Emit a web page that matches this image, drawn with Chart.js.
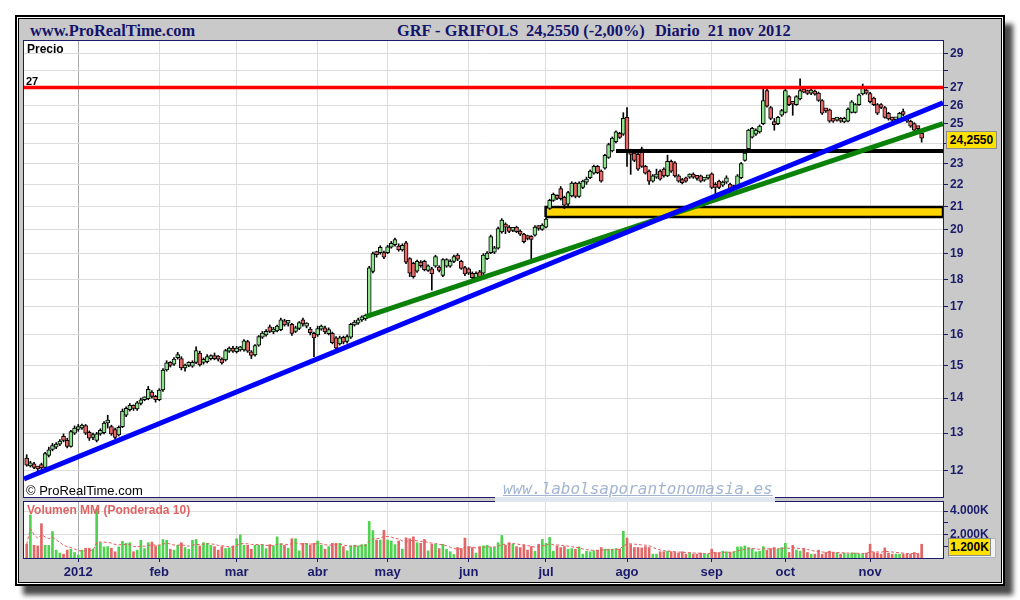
<!DOCTYPE html>
<html lang="es">
<head>
<meta charset="utf-8">
<title>GRF - GRIFOLS diario</title>
<script src="https://cdn.jsdelivr.net/npm/chart.js@4.4.1/dist/chart.umd.min.js"></script>
<style>
  html, body { margin: 0; padding: 0; background: #fff; }
  body { position: relative; width: 1020px; height: 600px; overflow: hidden; font-family: "Liberation Sans", Arial, sans-serif; }
  .a { position: absolute; }
  #outer { left: 15px; top: 15px; width: 990px; height: 571px; box-sizing: border-box; border: 2px solid #000; background: #fff; padding: 1px; box-shadow: 8px 9px 5px #4a4a4a; }
  #inner { width: 100%; height: 100%; box-sizing: border-box; border: 1px solid #000; background: #c9c9c9; }
  .panel { background: #fff; border: 1px solid #1b1b6b; box-sizing: border-box; z-index: 1; }
  #pricePanel { left: 23px; top: 40px; width: 921px; height: 458px; }
  #volPanel { left: 23px; top: 501px; width: 921px; height: 58px; }
  canvas { position: absolute; z-index: 2; }
  #pc { left: 24px; top: 41px; }
  #vc { left: 24px; top: 502px; }
  .t { position: absolute; z-index: 5; white-space: pre; }
  .hdr { font: bold 16.4px "Liberation Serif", "Times New Roman", serif; color: #14146b; top: 23px; line-height: 16px; }
  #wmStrip { left: 495px; top: 497px; width: 280px; height: 5px; background: #e2e6ee; z-index: 1; }
  #wm { left: 503px; top: 479px; font: italic 16px "DejaVu Sans Mono", monospace; color: #a3b5d2; text-decoration: underline; }
  .tag { position: absolute; z-index: 6; background: #ffe100; border: 1px solid #8c8c8c; box-sizing: border-box; font: bold 12px "Liberation Sans", Arial, sans-serif; color: #000; text-align: center; }
</style>
</head>
<body>
<div id="outer" class="a"><div id="inner"></div></div>
<div id="pricePanel" class="a panel"></div>
<div id="volPanel" class="a panel"></div>
<div id="wmStrip" class="a"></div>
<canvas id="pc" width="976" height="456"></canvas>
<canvas id="vc" width="976" height="86"></canvas>

<div class="t hdr" style="left:30px">www.ProRealTime.com</div>
<div class="t hdr" style="left:397px">GRF - GRIFOLS</div>
<div class="t hdr" style="left:526px">24,2550 (-2,00%)</div>
<div class="t hdr" style="left:655px">Diario  21 nov 2012</div>
<div class="t" style="left:27px;top:42px;font:bold 12px 'Liberation Sans',Arial,sans-serif;color:#000">Precio</div>
<div class="t" style="left:26px;top:75px;font:bold 11px 'Liberation Sans',Arial,sans-serif;color:#000">27</div>
<div class="t" style="left:26px;top:483px;font:13px 'Liberation Sans',Arial,sans-serif;color:#000">© ProRealTime.com</div>
<div id="wm" class="t">www.labolsaporantonomasia.es</div>
<div class="t" style="left:27px;top:503px;font:bold 12px 'Liberation Sans',Arial,sans-serif;color:#e06464">Volumen MM (Ponderada 10)</div>
<div class="a" style="left:948px;top:538px;width:48px;height:20px;border:1px solid #a9b6c6;background:#f2f2f2;box-sizing:border-box;z-index:5"></div>
<div class="tag" style="left:946px;top:131px;width:51px;height:18px;line-height:16px">24,2550</div>
<div class="tag" style="left:948px;top:538px;width:43px;height:18px;line-height:16px">1.200K</div>

<script>
// month starts as trading-day index (day 0 = 12 dic 2011)
const monthIdx = [14, 36, 57, 79, 98, 120, 141, 163, 186, 206, 229];
const monthLabels = ['2012', 'feb', 'mar', 'abr', 'may', 'jun', 'jul', 'ago', 'sep', 'oct', 'nov'];

const opens = [
  12.33,12.13,12.18,12.09,12.16,12.09,12.40,12.56,12.62,12.70,
  12.91,12.80,12.64,13.00,13.10,13.14,13.21,13.02,12.88,12.80,
  12.98,13.01,13.28,13.18,13.10,12.95,13.18,13.50,13.66,13.75,
  13.68,13.84,13.95,13.98,14.18,14.05,13.95,14.24,14.86,15.05,
  15.04,15.25,15.22,14.92,15.00,14.98,15.10,15.40,15.10,15.12,
  15.22,15.25,15.28,15.20,15.18,15.46,15.56,15.44,15.50,15.50,
  15.78,15.44,15.34,15.66,15.92,16.00,16.28,16.10,16.14,16.18,
  16.48,16.40,16.36,16.12,16.22,16.52,16.30,16.20,16.05,16.00,
  16.20,16.24,16.04,16.05,15.90,15.70,15.92,15.78,15.92,16.34,
  16.40,16.52,16.56,16.64,18.30,19.00,19.04,19.04,19.04,19.26,
  19.36,19.31,19.15,19.44,18.80,18.62,18.31,18.66,18.69,18.34,
  18.40,18.50,18.47,18.15,18.50,18.50,18.69,18.94,18.69,18.45,
  18.40,18.23,18.06,18.28,18.23,18.80,19.04,19.06,19.22,19.89,
  20.20,20.10,19.96,20.10,19.93,19.80,19.70,19.66,19.76,20.10,
  20.00,20.10,20.91,21.27,21.46,21.80,21.40,21.10,21.47,22.06,
  21.44,21.86,22.10,22.31,22.53,22.85,22.62,22.77,23.29,23.61,
  24.08,24.50,24.46,25.35,23.61,23.50,23.44,23.72,22.85,22.62,
  22.15,22.34,22.62,22.72,22.40,23.10,23.02,22.40,22.22,22.30,
  22.34,22.46,22.34,22.40,22.20,22.30,22.49,21.96,22.15,21.96,
  22.10,22.01,21.80,21.93,22.31,23.14,23.72,24.31,24.46,24.58,
  25.01,26.83,25.88,25.10,25.01,25.46,25.62,26.48,26.10,26.04,
  26.35,26.83,26.80,26.68,26.76,26.69,26.27,25.76,25.76,25.24,
  25.20,25.28,25.10,25.14,25.62,25.62,26.04,26.63,26.83,26.66,
  26.40,26.04,26.04,25.88,25.57,25.30,25.22,25.26,25.66,25.28,
  25.14,25.01,24.76,24.50
];
const highs = [
  12.42,12.25,12.22,12.12,12.20,12.48,12.62,12.72,12.74,12.82,
  12.98,12.86,13.08,13.20,13.24,13.25,13.24,13.06,13.00,13.02,
  13.12,13.32,13.50,13.22,13.14,13.20,13.68,13.74,13.84,13.80,
  13.90,14.00,14.04,14.35,14.22,14.08,14.28,14.90,15.15,15.12,
  15.25,15.42,15.28,15.04,15.12,15.15,15.60,15.46,15.24,15.35,
  15.34,15.40,15.32,15.24,15.52,15.60,15.62,15.62,15.62,15.84,
  15.82,15.48,15.68,15.98,16.12,16.18,16.34,16.26,16.34,16.58,
  16.54,16.50,16.40,16.30,16.46,16.58,16.42,16.26,16.10,16.30,
  16.34,16.30,16.24,16.10,15.94,15.96,15.96,16.00,16.40,16.50,
  16.58,16.66,16.72,18.50,19.06,19.10,19.32,19.10,19.34,19.50,
  19.64,19.40,19.40,19.50,18.84,18.66,18.74,18.72,18.74,18.56,
  18.46,18.94,18.52,18.80,18.80,18.76,18.94,19.00,18.74,18.50,
  18.44,18.28,18.28,18.34,19.00,19.08,19.76,19.30,20.10,20.46,
  20.28,20.16,20.08,20.14,19.98,19.84,19.76,19.74,20.16,20.16,
  20.24,20.50,21.32,21.60,21.52,21.90,21.46,21.68,22.12,22.10,
  22.12,22.20,22.34,22.68,22.92,22.90,22.68,23.44,24.00,24.32,
  24.64,24.56,25.60,25.88,23.70,23.56,23.50,23.80,22.90,22.68,
  22.46,22.72,22.68,22.78,23.40,23.16,23.08,22.46,22.28,22.34,
  22.50,22.54,22.40,22.44,22.30,22.40,22.54,22.08,22.20,22.16,
  22.40,22.06,21.96,22.46,23.04,23.56,24.72,24.82,24.74,24.94,
  26.90,26.90,25.94,25.29,25.40,25.78,26.90,26.54,26.16,26.54,
  27.50,26.90,26.86,26.90,26.86,26.74,26.32,25.82,25.80,25.30,
  25.32,25.34,25.36,25.86,26.26,26.10,26.64,27.20,27.00,26.72,
  26.46,26.10,26.10,25.94,25.62,25.36,25.34,25.62,25.80,25.34,
  25.20,25.06,24.82,24.55
];
const lows = [
  12.12,12.10,12.06,12.00,12.04,12.07,12.36,12.52,12.58,12.66,
  12.76,12.60,12.62,12.96,13.05,13.10,12.96,12.80,12.82,12.76,
  12.94,12.98,13.14,12.94,12.84,12.92,13.15,13.46,13.62,13.64,
  13.64,13.80,13.92,13.95,14.00,13.88,13.92,14.20,14.82,14.95,
  15.00,15.20,14.86,14.82,14.96,14.94,15.06,14.98,15.04,15.08,
  15.18,15.18,15.14,15.04,15.14,15.42,15.42,15.40,15.46,15.46,
  15.42,15.22,15.30,15.62,15.88,15.96,16.08,16.04,16.10,16.14,
  16.30,16.30,15.98,16.08,16.18,16.30,16.24,16.00,15.28,15.95,
  16.16,16.04,16.00,15.70,15.48,15.66,15.70,15.72,15.88,16.30,
  16.36,16.46,16.50,16.60,18.24,18.86,18.98,18.80,19.00,19.22,
  19.30,19.10,19.10,18.60,18.10,18.04,18.26,18.46,18.32,18.30,
  17.59,18.46,18.28,18.10,18.46,18.46,18.64,18.72,18.38,18.14,
  18.18,18.00,18.02,18.04,18.18,18.76,19.00,19.00,19.18,19.84,
  19.82,19.86,19.90,19.86,19.74,19.44,19.56,18.74,19.72,19.96,
  19.96,20.06,20.86,21.22,21.30,21.28,20.90,20.95,21.42,21.38,
  21.40,21.80,22.00,22.26,22.48,22.50,22.10,22.72,23.24,23.56,
  24.02,24.24,24.40,22.85,22.47,23.08,22.66,22.80,22.48,22.00,
  22.10,22.28,22.20,22.34,22.36,22.56,22.34,22.10,22.02,22.10,
  22.28,22.28,22.20,22.10,22.14,22.24,21.80,21.54,21.80,21.90,
  22.04,21.62,21.74,21.88,22.26,23.10,23.66,24.26,24.40,24.52,
  24.96,25.90,25.22,24.67,24.96,25.40,25.58,25.98,25.46,26.00,
  26.30,26.70,26.60,26.60,26.56,26.22,25.50,25.62,25.08,25.08,
  25.14,25.08,25.06,25.10,25.58,25.58,26.00,26.58,26.62,26.14,
  25.98,25.50,25.82,25.30,25.20,25.14,25.16,25.20,25.44,25.08,
  24.82,24.60,24.62,24.05
];
const closes = [
  12.15,12.21,12.09,12.05,12.08,12.45,12.55,12.66,12.70,12.78,
  12.80,12.64,13.04,13.14,13.17,13.18,13.00,12.86,12.95,12.98,
  13.08,13.28,13.30,12.98,12.88,13.16,13.62,13.70,13.79,13.70,
  13.86,13.95,14.00,14.26,14.05,13.95,14.24,14.85,15.08,15.00,
  15.20,15.34,14.92,14.98,15.08,15.10,15.48,15.02,15.14,15.28,
  15.26,15.22,15.20,15.08,15.48,15.54,15.46,15.56,15.55,15.80,
  15.46,15.32,15.64,15.94,16.06,16.12,16.12,16.20,16.30,16.52,
  16.34,16.44,16.05,16.24,16.42,16.38,16.36,16.08,15.90,16.22,
  16.26,16.10,16.18,15.74,15.56,15.90,15.76,15.94,16.36,16.44,
  16.52,16.60,16.68,18.44,19.00,18.96,19.26,18.86,19.28,19.42,
  19.57,19.15,19.34,18.66,18.23,18.10,18.69,18.52,18.37,18.52,
  18.20,18.88,18.34,18.76,18.76,18.70,18.88,18.78,18.42,18.20,
  18.23,18.06,18.23,18.10,18.94,19.02,19.70,19.24,20.03,20.40,
  20.10,19.92,20.02,19.90,19.80,19.49,19.62,19.58,20.10,20.04,
  20.18,20.44,21.27,21.54,21.36,21.34,21.05,21.62,22.06,21.44,
  22.06,22.15,22.24,22.62,22.85,22.55,22.15,23.39,23.93,24.26,
  24.58,24.30,25.29,23.61,23.44,23.14,22.72,22.85,22.53,22.15,
  22.40,22.36,22.24,22.40,23.10,22.62,22.40,22.15,22.08,22.15,
  22.42,22.34,22.28,22.15,22.24,22.34,21.86,21.86,21.86,22.10,
  22.30,21.68,21.86,22.40,22.99,23.50,24.67,24.76,24.67,24.88,
  26.27,25.96,25.29,24.96,25.35,25.72,26.83,26.04,26.06,26.48,
  26.83,26.74,26.66,26.78,26.62,26.27,25.57,25.70,25.14,25.14,
  25.24,25.14,25.30,25.80,26.19,26.04,26.58,27.07,26.68,26.20,
  26.04,25.57,25.88,25.35,25.26,25.20,25.28,25.56,25.50,25.14,
  24.88,24.67,24.75,24.255
];
// volumen en miles de títulos
const volumes = [
  1170,3670,1080,1030,2920,1080,1080,2250,670,420,
  330,670,750,470,250,670,830,830,750,4170,
  1300,945,970,830,530,945,1420,1250,1300,530,
  670,1500,800,1300,1360,1030,1080,1580,1500,750,
  670,1080,1300,890,750,1500,1580,1030,1300,1250,
  1080,970,670,970,800,860,1030,1640,1970,1080,
  1080,750,1080,1080,1140,800,1140,1030,1800,1220,
  1080,830,1640,1640,610,1250,1250,1080,1250,1450,
  1080,750,970,1250,1250,1250,970,610,1030,1080,
  1030,1140,1170,3110,2330,1530,1530,2360,1530,1450,
  1140,1450,750,1720,1640,1800,1300,1250,1580,610,
  1170,1170,800,1170,750,530,300,890,800,1700,
  970,890,420,970,1030,1080,890,890,1300,1920,
  1080,1300,1170,970,890,1080,670,970,580,1170,
  1580,1250,1750,580,1030,890,970,750,800,750,
  945,330,580,530,610,670,890,750,750,750,
  800,750,2280,1700,1140,890,890,860,970,890,
  330,330,530,530,580,530,470,420,530,330,
  420,330,330,420,330,330,750,470,420,580,
  530,470,530,945,945,1030,890,800,530,580,
  970,670,800,890,750,890,1250,470,1080,670,
  580,800,470,330,330,670,330,470,580,470,
  420,330,420,330,420,420,330,330,420,1170,
  470,420,330,860,420,330,330,330,330,330,
  330,470,330,1170
];

const priceTicks = [12, 13, 14, 15, 16, 17, 18, 19, 20, 21, 22, 23, 24, 25, 26, 27, 28, 29];
const unlabeledPriceTicks = [28];
const volumeTicks = [1000, 2000, 3000, 4000];
const labeledVolumeTicks = [2000, 4000];

// lineas dibujadas sobre el grafico (indice de sesion, precio)
const resistanceLevel = 27;
const supportLevel = 23.61;
const supportStart = 160;
const yellowZone = [20.53, 20.97];
const yellowZoneStart = 140.9;
const blueTrend = [[-0.73, 11.80], [248.8, 26.14]];
const greenTrend = [[92.1, 16.63], [248.8, 25.01]];

const X_MIN = -0.733, X_MAX = 248.8;
const NAVY = '#1b1b6b';
const tickFont = { family: 'Liberation Sans', size: 12, weight: 'bold' };

const idx = closes.map((_, i) => i);
const isUp = idx.map(i => closes[i] >= opens[i]);
const pts = arr => arr.map(([x, y]) => ({ x, y }));
const monthGrid = c => (c.tick && c.tick.value === monthIdx[0]) ? '#a9a9a9' : '#dcdcdc';
// keep the plot area on the full canvas height (no label padding)
const fitRight = s => { s.width = 57; s.paddingTop = 0; s.paddingBottom = 0; };

// media ponderada 10 del volumen
const volMA = idx.map(i => {
  let s = 0, w = 0;
  for (let k = 0; k < 10 && i - k >= 0; k++) { s += volumes[i - k] * (10 - k); w += 10 - k; }
  return { x: i, y: s / w };
});

const common = {
  responsive: false,
  maintainAspectRatio: false,
  animation: false,
  devicePixelRatio: 1,
  layout: { padding: 0 },
  plugins: { legend: { display: false }, tooltip: { enabled: false } }
};

new Chart(document.getElementById('pc'), {
  type: 'bar',
  data: {
    datasets: [
      { type: 'line', data: [{ x: X_MIN, y: resistanceLevel }, { x: X_MAX, y: resistanceLevel }],
        borderColor: '#ff0000', borderWidth: 3.5, pointRadius: 0, order: 1 },
      { type: 'line', data: pts(blueTrend), borderColor: '#0000ff', borderWidth: 5, pointRadius: 0, order: 2 },
      { type: 'line', data: pts(greenTrend), borderColor: '#0a820a', borderWidth: 5, pointRadius: 0, order: 3 },
      { type: 'line', data: [{ x: supportStart, y: supportLevel }, { x: X_MAX, y: supportLevel }],
        borderColor: '#000', borderWidth: 4, pointRadius: 0, order: 4 },
      { data: idx.map(i => ({ x: i, y: [opens[i], closes[i]] })),
        backgroundColor: idx.map(i => isUp[i] ? '#8fe38f' : '#e86868'),
        borderColor: '#000', borderWidth: 1, borderSkipped: false,
        barThickness: 4, minBarLength: 3, grouped: false, order: 6 },
      { data: idx.map(i => ({ x: i, y: [lows[i], highs[i]] })),
        backgroundColor: '#000', borderWidth: 0, barThickness: 1, grouped: false, order: 7 },
      { type: 'line', fill: 'shape', tension: 0, pointRadius: 0,
        data: [
          { x: yellowZoneStart, y: yellowZone[0] }, { x: yellowZoneStart, y: yellowZone[1] },
          { x: X_MAX, y: yellowZone[1] }, { x: X_MAX, y: yellowZone[0] },
          { x: yellowZoneStart, y: yellowZone[0] }
        ],
        backgroundColor: '#ffd500', borderColor: '#000', borderWidth: 2.5, order: 9 }
    ]
  },
  options: {
    ...common,
    scales: {
      x: {
        type: 'linear', min: X_MIN, max: X_MAX, offset: false, bounds: 'data',
        afterBuildTicks: s => { s.ticks = monthIdx.map(v => ({ value: v })); },
        afterFit: s => { s.height = 0; },
        ticks: { display: false },
        grid: { color: monthGrid, drawTicks: false, offset: false },
        border: { display: false }
      },
      y: {
        type: 'logarithmic', position: 'right', min: 11.357, max: 29.79, bounds: 'data',
        afterBuildTicks: s => { s.ticks = priceTicks.map(v => ({ value: v })); },
        afterFit: fitRight,
        ticks: { autoSkip: false, padding: 2, color: NAVY, font: tickFont,
          callback: v => unlabeledPriceTicks.includes(v) ? '' : String(v) },
        grid: { color: '#dcdcdc', tickColor: NAVY, tickLength: 5 },
        border: { display: true, color: NAVY }
      }
    }
  }
});

const fmtK = v => labeledVolumeTicks.includes(v)
  ? Math.floor(v / 1000) + '.' + String(v % 1000).padStart(3, '0') + 'K' : '';

new Chart(document.getElementById('vc'), {
  type: 'bar',
  data: {
    datasets: [
      { type: 'line', data: volMA, borderColor: '#e25c5c', borderWidth: 1, borderDash: [3, 2],
        pointRadius: 0, tension: 0, order: 1 },
      { data: idx.map(i => ({ x: i, y: volumes[i] })),
        backgroundColor: idx.map(i => isUp[i] ? '#4fd24f' : '#e26666'),
        barThickness: 2, borderWidth: 0, order: 2 }
    ]
  },
  options: {
    ...common,
    scales: {
      x: {
        type: 'linear', min: X_MIN, max: X_MAX, offset: false, bounds: 'data',
        afterBuildTicks: s => { s.ticks = monthIdx.map(v => ({ value: v })); },
        afterFit: s => { s.height = 30; },
        ticks: { autoSkip: false, maxRotation: 0, padding: 3, color: NAVY,
          font: { family: 'Liberation Sans', size: 13, weight: 'bold' },
          callback: (v, i) => monthLabels[i] },
        grid: { color: monthGrid, tickColor: NAVY, tickLength: 4, offset: false },
        border: { display: false }
      },
      y: {
        type: 'linear', position: 'right', min: 0, max: 4766, bounds: 'data',
        afterBuildTicks: s => { s.ticks = volumeTicks.map(v => ({ value: v })); },
        afterFit: fitRight,
        ticks: { autoSkip: false, padding: 2, color: NAVY, font: tickFont, callback: fmtK },
        grid: { color: c => labeledVolumeTicks.includes(c.tick && c.tick.value) ? '#dcdcdc' : 'rgba(0,0,0,0)',
          tickColor: NAVY, tickLength: 5 },
        border: { display: true, color: NAVY }
      }
    }
  }
});
</script>
</body>
</html>
